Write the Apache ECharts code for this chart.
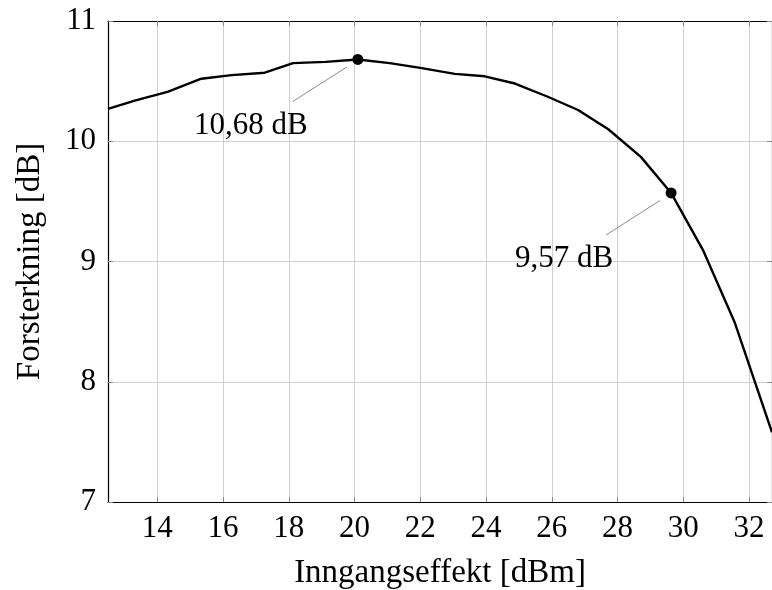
<!DOCTYPE html>
<html>
<head>
<meta charset="utf-8">
<script src="https://cdn.jsdelivr.net/npm/echarts@6/dist/echarts.min.js"></script>
<style>
  html, body { margin: 0; padding: 0; background: #fff; }
  #chart { width: 772px; height: 590px; }
</style>
</head>
<body>
<div id="chart"></div>
<script>
// Measured amplifier gain versus input power
const inputPower = [12.5, 13.34, 14.31, 15.34, 16.26, 17.27, 18.13, 19.12, 20.1, 21.07, 22.0,
                    23.05, 23.96, 24.88, 25.88, 26.8, 27.72, 28.71, 29.63, 30.61, 31.57, 32.7];
const gain = [10.27, 10.34, 10.41, 10.52, 10.55, 10.57, 10.65, 10.66, 10.68, 10.65, 10.61,
              10.56, 10.54, 10.48, 10.37, 10.26, 10.10, 9.87, 9.57, 9.09, 8.49, 7.58];
// Highlighted points: maximum gain and the compression point
const markedIdx = [8, 18];
const xTicks = [14, 16, 18, 20, 22, 24, 26, 28, 30, 32];
const yTicks = [7, 8, 9, 10, 11];

const FONT = "'Liberation Serif', 'Times New Roman', serif";
const fmt = v => v.toFixed(2).replace('.', ',') + ' dB';

const chart = echarts.init(document.getElementById('chart'), null, { renderer: 'canvas' });

const frameAxis = {
  axisLine: { show: true, onZero: false, lineStyle: { color: '#000', width: 1.2 } },
  axisTick: { show: true, inside: true, length: 5, lineStyle: { color: '#888' } },
};

const option = {
  animation: false,
  backgroundColor: '#fff',
  grid: { left: 108, right: 0, top: 21, bottom: 88, outerBoundsMode: 'none', containLabel: false },
  xAxis: [
    Object.assign({
      type: 'value', min: 12.5, max: 32.7, position: 'bottom',
      name: 'Inngangseffekt [dBm]', nameLocation: 'middle', nameGap: 55,
      nameTextStyle: { fontFamily: FONT, fontSize: 33, color: '#000' },
      axisLabel: { customValues: xTicks, margin: 11, fontFamily: FONT, fontSize: 31, color: '#000' },
      splitLine: { show: true, lineStyle: { color: '#cfcfcf', width: 1 } },
    }, frameAxis, { axisTick: Object.assign({}, frameAxis.axisTick, { customValues: xTicks }) }),
    Object.assign({
      type: 'value', min: 12.5, max: 32.7, position: 'top',
      axisLabel: { show: false }, splitLine: { show: false },
    }, frameAxis, { axisTick: Object.assign({}, frameAxis.axisTick, { customValues: xTicks }) }),
  ],
  yAxis: [
    Object.assign({
      type: 'value', min: 7, max: 11, position: 'left',
      name: 'Forsterkning [dB]', nameLocation: 'middle', nameGap: 61,
      nameTextStyle: { fontFamily: FONT, fontSize: 33, color: '#000' },
      axisLabel: { customValues: yTicks, margin: 12, fontFamily: FONT, fontSize: 31, color: '#000' },
      splitLine: { show: true, lineStyle: { color: '#cfcfcf', width: 1 } },
    }, frameAxis, { axisTick: Object.assign({}, frameAxis.axisTick, { customValues: yTicks }) }),
    Object.assign({
      type: 'value', min: 7, max: 11, position: 'right',
      axisLabel: { show: false }, splitLine: { show: false },
    }, frameAxis, { axisTick: Object.assign({}, frameAxis.axisTick, { customValues: yTicks }) }),
  ],
  series: [
    {
      type: 'line',
      data: inputPower.map((x, i) => [x, gain[i]]),
      showSymbol: false,
      lineStyle: { color: '#000', width: 2.4 },
      z: 3,
    },
    {
      type: 'scatter',
      data: markedIdx.map(i => [inputPower[i], gain[i]]),
      symbolSize: 11,
      itemStyle: { color: '#000', opacity: 1 },
      label: {
        show: true, position: 'inside', offset: [-107, 66],
        formatter: p => fmt(p.value[1]),
        fontFamily: FONT, fontSize: 31, color: '#000', opacity: 1,
      },
      z: 4,
    },
  ],
};
chart.setOption(option);

// Thin leader lines from each annotation towards its point
const leaders = markedIdx.map(i => {
  const [px, py] = chart.convertToPixel({ xAxisIndex: 0, yAxisIndex: 0 }, [inputPower[i], gain[i]]);
  return {
    type: 'line',
    shape: { x1: px - 65, y1: py + 42, x2: px - 11, y2: py + 7.5 },
    style: { stroke: '#8c8c8c', lineWidth: 1 },
    z: 5,
  };
});
chart.setOption({ graphic: leaders });
</script>
</body>
</html>
